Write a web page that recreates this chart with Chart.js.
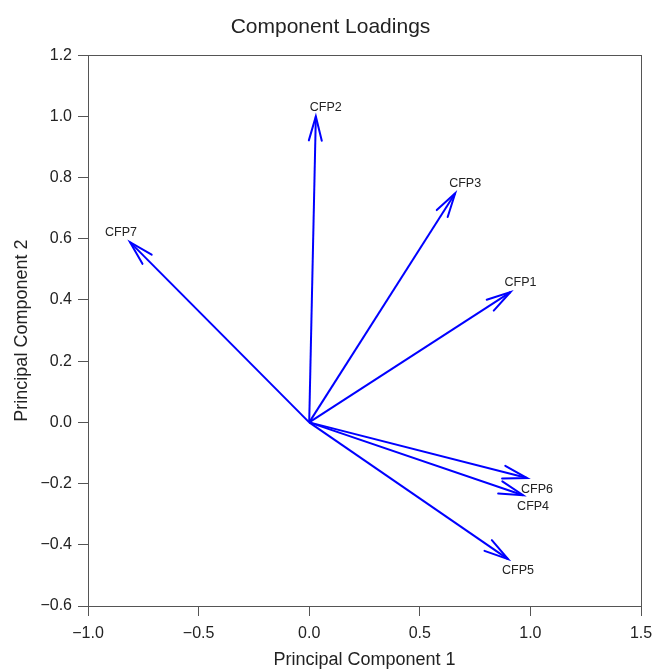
<!DOCTYPE html>
<html>
<head>
<meta charset="utf-8">
<script src="https://cdn.jsdelivr.net/npm/chart.js@4/dist/chart.umd.min.js"></script>
<style>
  html, body { margin: 0; padding: 0; background: #fff; }
  #wrap { width: 655px; height: 671px; position: relative; }
</style>
</head>
<body>
<div id="wrap"><canvas id="c"></canvas></div>
<script>
// ---- data ----
const variables = ['CFP1', 'CFP2', 'CFP3', 'CFP4', 'CFP5', 'CFP6', 'CFP7'];
const pc1Loadings = [0.91, 0.03, 0.66, 0.967, 0.899, 0.985, -0.81];
const pc2Loadings = [0.426, 1.0, 0.749, -0.238, -0.447, -0.182, 0.589];
const xTicks = [-1.0, -0.5, 0.0, 0.5, 1.0, 1.5];
const yTicks = [-0.6, -0.4, -0.2, 0.0, 0.2, 0.4, 0.6, 0.8, 1.0, 1.2];

const FONT = '"Liberation Sans", Arial, Helvetica, sans-serif';
const BLUE = '#0000ff';

const datasets = variables.map((name, i) => ({
  label: name,
  data: [{x: 0, y: 0}, {x: pc1Loadings[i], y: pc2Loadings[i]}],
  showLine: true,
  borderColor: BLUE,
  borderWidth: 2,
  pointRadius: 0,
  fill: false
}));

const fmt = v => (Math.round(v * 10) / 10).toFixed(1).replace('-', '\u2212');

const arrowPlugin = {
  id: 'arrows',
  beforeDatasetsDraw(chart) {
    const {ctx, chartArea: a} = chart;
    ctx.save();
    ctx.strokeStyle = '#555';
    ctx.lineWidth = 1;
    ctx.strokeRect(Math.round(a.left) + 0.5, Math.round(a.top) + 0.5,
                   Math.round(a.right - a.left), Math.round(a.bottom - a.top));
    ctx.restore();
  },
  afterDatasetsDraw(chart) {
    const {ctx} = chart;
    const xs = chart.scales.x, ys = chart.scales.y;
    ctx.save();
    variables.forEach((name, i) => {
      const ox = xs.getPixelForValue(0), oy = ys.getPixelForValue(0);
      const tx = xs.getPixelForValue(pc1Loadings[i]);
      const ty = ys.getPixelForValue(pc2Loadings[i]);
      const ang = Math.atan2(ty - oy, tx - ox);
      const len = 25, half = 15 * Math.PI / 180;
      ctx.strokeStyle = BLUE;
      ctx.lineWidth = 2;
      ctx.lineCap = 'round';
      ctx.beginPath();
      ctx.moveTo(tx - len * Math.cos(ang - half), ty - len * Math.sin(ang - half));
      ctx.lineTo(tx, ty);
      ctx.lineTo(tx - len * Math.cos(ang + half), ty - len * Math.sin(ang + half));
      ctx.stroke();
      // label
      ctx.fillStyle = '#222';
      ctx.font = '12.5px ' + FONT;
      let lx, ly;
      if (pc1Loadings[i] < 0) { ctx.textAlign = 'right'; lx = tx + 7; }
      else { ctx.textAlign = 'left'; lx = tx - 6; }
      if (pc2Loadings[i] >= 0) { ctx.textBaseline = 'bottom'; ly = ty - 3; }
      else { ctx.textBaseline = 'top'; ly = ty + 5; }
      ctx.fillText(name, lx, ly);
    });
    ctx.restore();
  }
};

new Chart(document.getElementById('c'), {
  type: 'scatter',
  data: { datasets },
  plugins: [arrowPlugin],
  options: {
    responsive: true,
    maintainAspectRatio: false,
    animation: false,
    layout: { padding: { left: 6, right: 0, top: 0, bottom: 0 } },
    plugins: {
      legend: { display: false },
      tooltip: { enabled: false },
      title: {
        display: true,
        text: 'Component Loadings',
        color: '#222',
        font: { family: FONT, size: 21, weight: 'normal' },
        padding: { top: 15, bottom: 15 }
      }
    },
    scales: {
      x: {
        type: 'linear',
        min: xTicks[0],
        max: xTicks[xTicks.length - 1],
        afterBuildTicks: s => { s.ticks = xTicks.map(v => ({value: v})); },
        afterFit: s => { s.height = 65; s.paddingRight = 14; },
        border: { display: false },
        grid: { drawOnChartArea: false, drawTicks: true, tickLength: 10, color: '#555' },
        ticks: { color: '#222', padding: 8, maxRotation: 0, font: { family: FONT, size: 16 }, callback: fmt },
        title: { display: true, text: 'Principal Component 1', color: '#222',
                 font: { family: FONT, size: 18 }, padding: { top: 0, bottom: 0 } }
      },
      y: {
        type: 'linear',
        min: yTicks[0],
        max: yTicks[yTicks.length - 1],
        afterBuildTicks: s => { s.ticks = yTicks.map(v => ({value: v})); },
        afterFit: s => { s.width = 82; },
        border: { display: false },
        grid: { drawOnChartArea: false, drawTicks: true, tickLength: 10, color: '#555' },
        ticks: { color: '#222', padding: 6, font: { family: FONT, size: 16 }, callback: fmt },
        title: { display: true, text: 'Principal Component 2', color: '#222',
                 font: { family: FONT, size: 18 }, padding: { top: 5, bottom: 0 } }
      }
    }
  }
});
</script>
</body>
</html>
